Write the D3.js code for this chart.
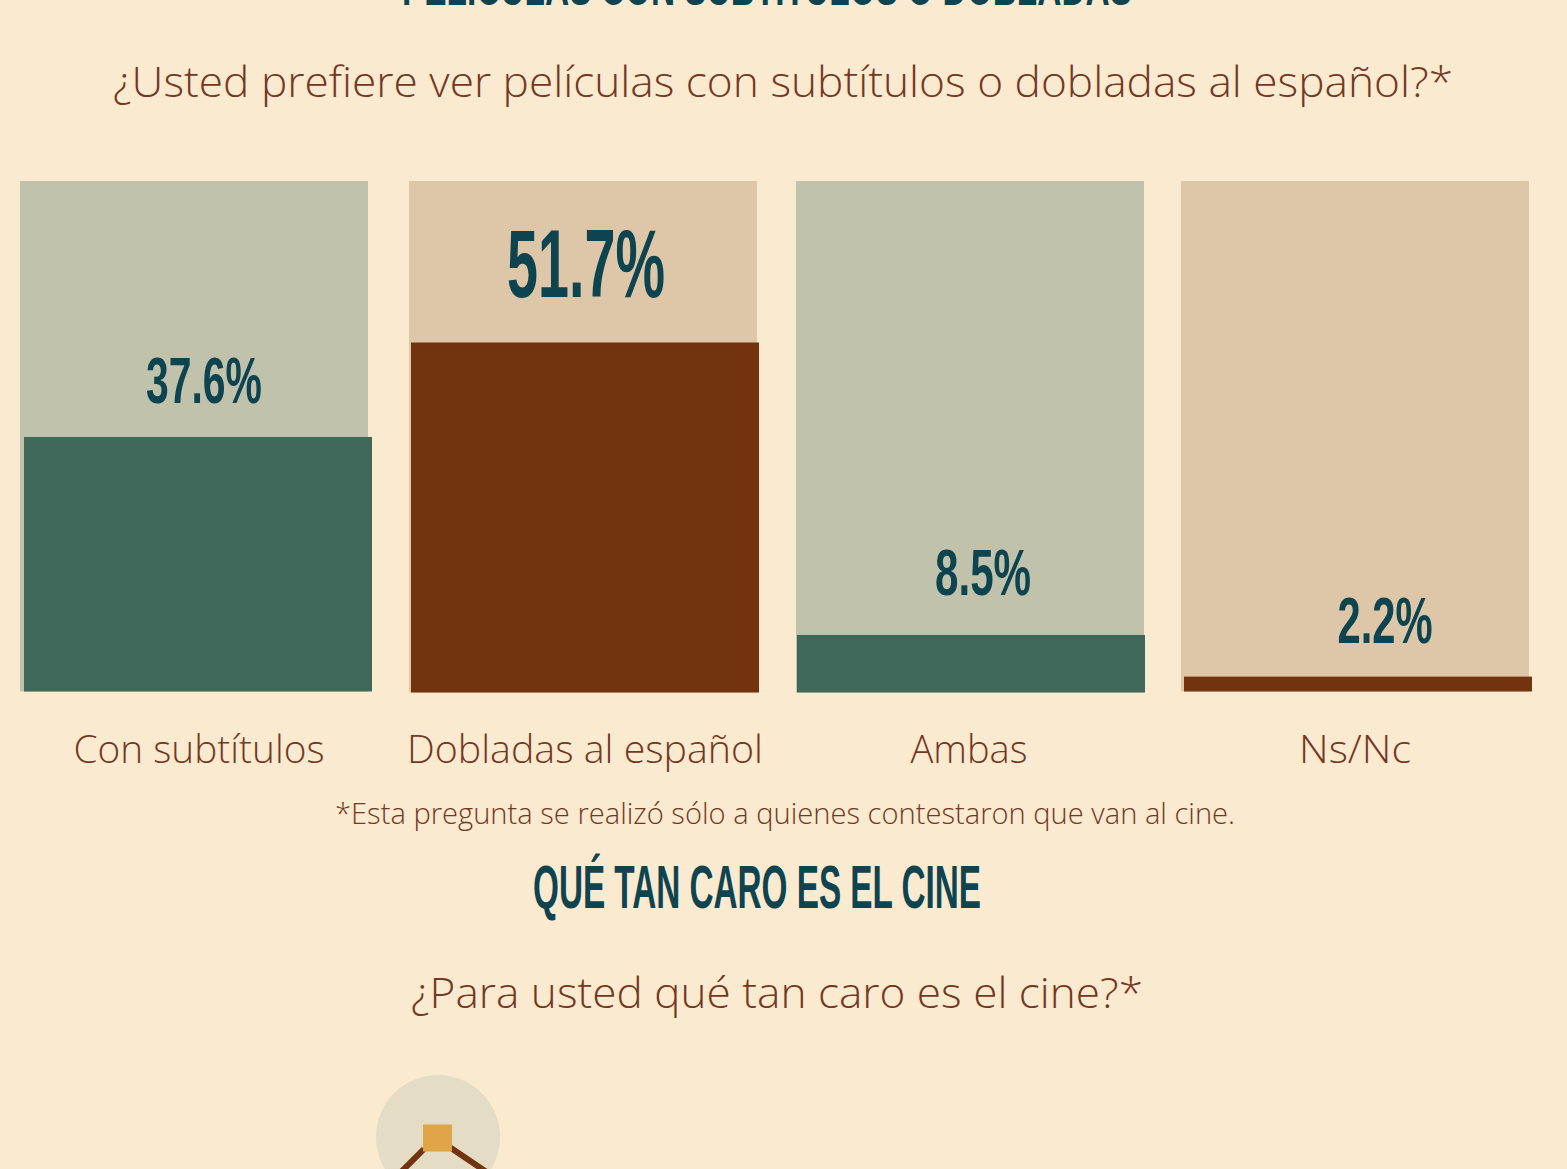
<!DOCTYPE html>
<html>
<head>
<meta charset="utf-8">
<script src="https://cdn.jsdelivr.net/npm/d3@7"></script>
<style>
  html, body { margin: 0; padding: 0; background: #faead0; overflow: hidden; }
  svg { display: block; }
</style>
</head>
<body>
<svg width="1567" height="1169"></svg>
<script>
// Chart values
let categories = ['Con subtítulos', 'Dobladas al español', 'Ambas', 'Ns/Nc'];
let values = [37.6, 51.7, 8.5, 2.2];
let labels = ['37.6%', '51.7%', '8.5%', '2.2%'];

let svg = d3.select('svg');

let green = '#40685a', brown = '#73330e', teal = '#0e4450', textBrown = '#75381f';
let bodyFont = '"Open Sans", "Noto Sans", sans-serif';
let headFont = '"Liberation Sans Narrow", "Liberation Sans", sans-serif';

// Scales, the panels are not quite evenly spaced in the original
let xBack = d3.scaleOrdinal().domain(categories).range([20, 409, 796, 1181]);
let xBar = d3.scaleOrdinal().domain(categories).range([24, 411, 797, 1184]);
let xLabel = d3.scaleOrdinal().domain(categories).range([204, 586, 983, 1385]);
let xCat = d3.scaleOrdinal().domain(categories).range([199, 585, 969, 1355]);
let backFill = d3.scaleOrdinal().domain(categories).range(['#c1c2ab', '#dec7a8', '#c1c2ab', '#dec7a8']);
let barFill = d3.scaleOrdinal().domain(categories).range([green, brown, green, brown]);
let baseline = d3.scaleOrdinal().domain(categories).range([691.5, 692.5, 692.5, 691.5]);
let labelSize = d3.scaleOrdinal().domain(labels).range([65, 97, 65, 65]);
let labelWidth = d3.scaleOrdinal().domain(labels).range([116, 158, 96, 95]);
let labelLift = d3.scaleOrdinal().domain(labels).range([34, 45, 40, 34]);
let catWidth = d3.scaleOrdinal().domain(categories).range([251, 356, 117, 112]);
let barH = d3.scaleLinear().domain([0, 100]).range([0, 677]);

let panelW = 348;
let panelTop = 181;

// Text helper, textLength keeps the lettering at the right width
function addText(str, x, y, size, color, font, width, weight) {
  let t = svg.append('text')
    .attr('x', x)
    .attr('y', y)
    .attr('text-anchor', 'middle')
    .attr('font-family', font)
    .attr('font-size', size)
    .attr('font-weight', weight || 300)
    .attr('fill', color)
    .text(str);
  if (width) t.attr('textLength', width).attr('lengthAdjust', 'spacingAndGlyphs');
  return t;
}

// Headings and questions
addText('PELÍCULAS CON SUBTÍTULOS O DOBLADAS', 767, 5, 50, teal, headFont, 730, 700);
addText('¿Usted prefiere ver películas con subtítulos o dobladas al español?*', 783, 97, 43, textBrown, bodyFont, 1340);

// Panels
svg.append('g').selectAll('rect')
  .data(categories)
  .enter().append('rect')
    .attr('x', d => xBack(d))
    .attr('y', panelTop)
    .attr('width', panelW)
    .attr('height', d => baseline(d) - panelTop)
    .attr('fill', d => backFill(d));

// Bars
svg.append('g').selectAll('rect')
  .data(categories)
  .enter().append('rect')
    .attr('x', d => xBar(d))
    .attr('y', (d, i) => baseline(d) - barH(values[i]))
    .attr('width', panelW)
    .attr('height', (d, i) => barH(values[i]))
    .attr('fill', d => barFill(d));

// Value labels above the bars, category names under the panels
categories.forEach((c, i) => {
  let top = baseline(c) - barH(values[i]);
  addText(labels[i], xLabel(c), top - labelLift(labels[i]), labelSize(labels[i]), teal, headFont, labelWidth(labels[i]), 700);
  addText(c, xCat(c), 763, 39, textBrown, bodyFont, catWidth(c));
});

// Footnote and next section
addText('*Esta pregunta se realizó sólo a quienes contestaron que van al cine.', 785, 824, 29, textBrown, bodyFont, 900);
addText('QUÉ TAN CARO ES EL CINE', 757, 908, 62, teal, headFont, 448, 700);
addText('¿Para usted qué tan caro es el cine?*', 777, 1008, 43, textBrown, bodyFont, 732);

// Top of the icon that continues below the fold
svg.append('circle')
  .attr('cx', 438).attr('cy', 1137).attr('r', 62)
  .attr('fill', '#e5dcc5');
svg.append('path')
  .attr('d', 'M424,1149L400,1173M448,1146L488,1173')
  .attr('fill', 'none')
  .attr('stroke', brown)
  .attr('stroke-width', 6);
svg.append('rect')
  .attr('x', 423).attr('y', 1124.5).attr('width', 29).attr('height', 27)
  .attr('fill', '#e0a546');
</script>
</body>
</html>
